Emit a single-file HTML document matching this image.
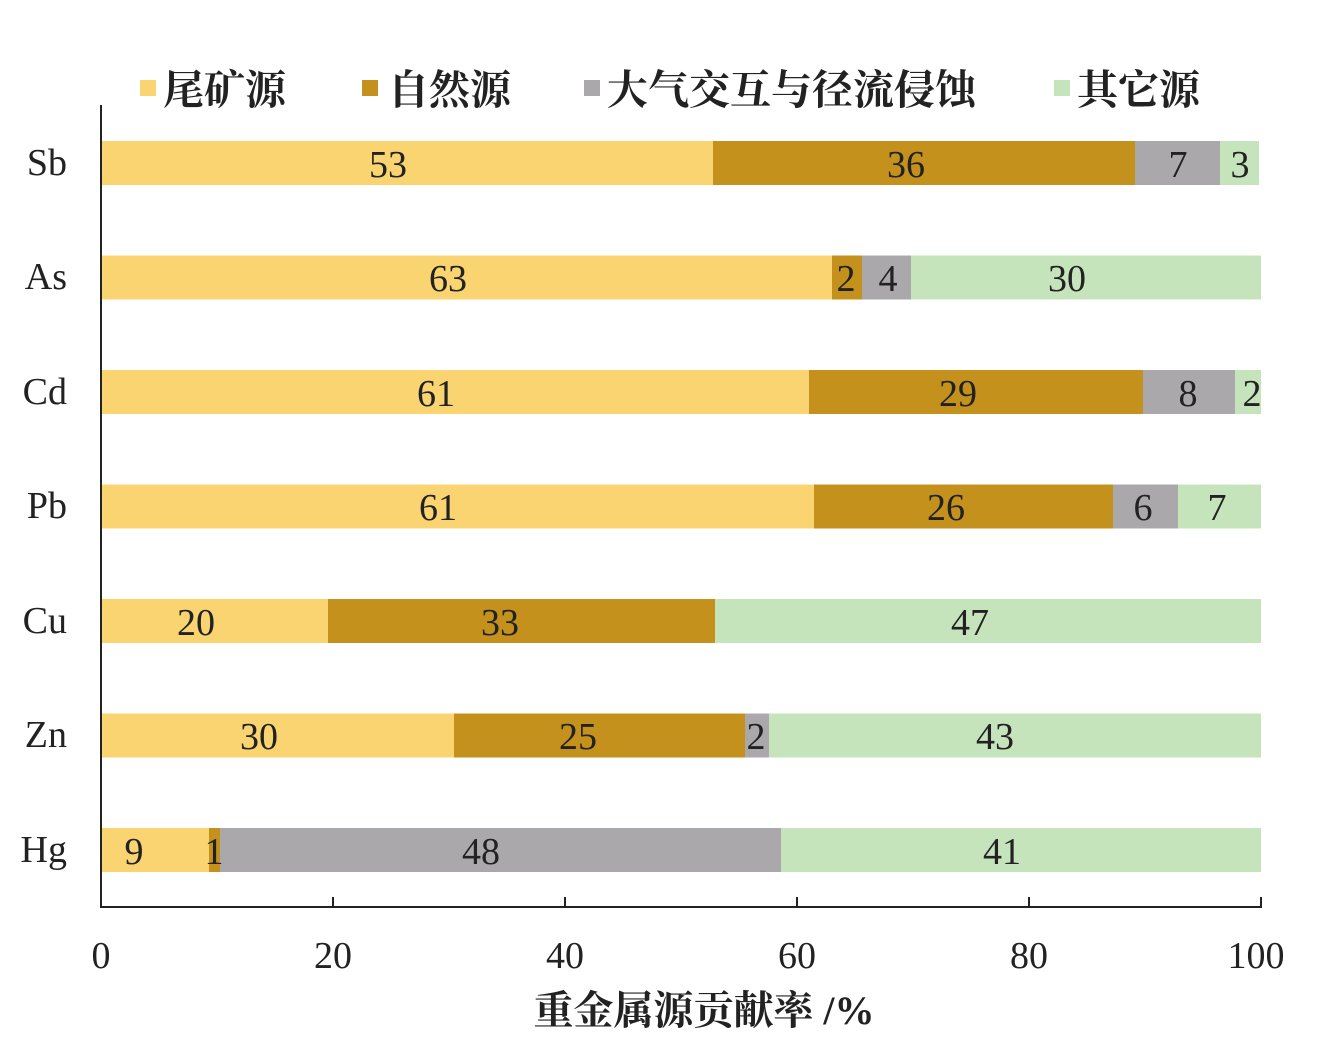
<!DOCTYPE html>
<html><head><meta charset="utf-8"><style>
html,body{margin:0;padding:0;background:#fff;}
text{font-family:"Liberation Serif","Noto Serif CJK SC",serif;fill:#222;}
</style></head><body>
<svg width="1324" height="1052" viewBox="0 0 1324 1052" xmlns="http://www.w3.org/2000/svg">
<g font-size="41" font-weight="bold">
<rect x="140" y="80" width="16" height="16" fill="#F9D470"/><text x="163" y="104">尾矿源</text>
<rect x="362" y="80" width="16" height="16" fill="#C4921C"/><text x="388" y="104">自然源</text>
<rect x="584" y="80" width="16" height="16" fill="#ABA8AC"/><text x="607" y="104">大气交互与径流侵蚀</text>
<rect x="1054" y="80" width="16" height="16" fill="#C6E4BC"/><text x="1077" y="104">其它源</text>
</g>
<g>
<!-- Sb -->
<rect x="101" y="141" width="612" height="44" fill="#F9D470"/><rect x="713" y="141" width="422" height="44" fill="#C4921C"/><rect x="1135" y="141" width="85" height="44" fill="#ABA8AC"/><rect x="1220" y="141" width="39" height="44" fill="#C6E4BC"/>
<!-- As -->
<rect x="101" y="255.5" width="731" height="44" fill="#F9D470"/><rect x="832" y="255.5" width="30" height="44" fill="#C4921C"/><rect x="862" y="255.5" width="49" height="44" fill="#ABA8AC"/><rect x="911" y="255.5" width="350" height="44" fill="#C6E4BC"/>
<!-- Cd -->
<rect x="101" y="370" width="708" height="44" fill="#F9D470"/><rect x="809" y="370" width="334" height="44" fill="#C4921C"/><rect x="1143" y="370" width="92" height="44" fill="#ABA8AC"/><rect x="1235" y="370" width="26" height="44" fill="#C6E4BC"/>
<!-- Pb -->
<rect x="101" y="484.5" width="713" height="44" fill="#F9D470"/><rect x="814" y="484.5" width="299" height="44" fill="#C4921C"/><rect x="1113" y="484.5" width="65" height="44" fill="#ABA8AC"/><rect x="1178" y="484.5" width="83" height="44" fill="#C6E4BC"/>
<!-- Cu -->
<rect x="101" y="599" width="227" height="44" fill="#F9D470"/><rect x="328" y="599" width="387" height="44" fill="#C4921C"/><rect x="715" y="599" width="546" height="44" fill="#C6E4BC"/>
<!-- Zn -->
<rect x="101" y="713.5" width="353" height="44" fill="#F9D470"/><rect x="454" y="713.5" width="291" height="44" fill="#C4921C"/><rect x="745" y="713.5" width="24" height="44" fill="#ABA8AC"/><rect x="769" y="713.5" width="492" height="44" fill="#C6E4BC"/>
<!-- Hg -->
<rect x="101" y="828" width="108" height="44" fill="#F9D470"/><rect x="209" y="828" width="11" height="44" fill="#C4921C"/><rect x="220" y="828" width="561" height="44" fill="#ABA8AC"/><rect x="781" y="828" width="480" height="44" fill="#C6E4BC"/>
</g>
<g font-size="38" text-anchor="middle">
<text x="388" y="177">53</text><text x="906" y="177">36</text><text x="1178" y="177">7</text><text x="1240" y="177">3</text>
<text x="448" y="291">63</text><text x="846" y="291">2</text><text x="888" y="291">4</text><text x="1067" y="291">30</text>
<text x="436" y="406">61</text><text x="958" y="406">29</text><text x="1188" y="406">8</text><text x="1252" y="406">2</text>
<text x="438" y="520">61</text><text x="946" y="520">26</text><text x="1143" y="520">6</text><text x="1217" y="520">7</text>
<text x="196" y="635">20</text><text x="500" y="635">33</text><text x="970" y="635">47</text>
<text x="259" y="749">30</text><text x="578" y="749">25</text><text x="756" y="749">2</text><text x="995" y="749">43</text>
<text x="134" y="864">9</text><text x="214" y="864">1</text><text x="481" y="864">48</text><text x="1002" y="864">41</text>
</g>
<g font-size="38" text-anchor="end">
<text x="67" y="175">Sb</text><text x="67" y="289">As</text><text x="67" y="404">Cd</text><text x="67" y="518">Pb</text>
<text x="67" y="633">Cu</text><text x="67" y="747">Zn</text><text x="67" y="862">Hg</text>
</g>
<line x1="101" y1="105" x2="101" y2="908" stroke="#222" stroke-width="2"/>
<line x1="100" y1="907" x2="1262" y2="907" stroke="#222" stroke-width="2"/>
<g stroke="#222" stroke-width="2">
<line x1="333" y1="897" x2="333" y2="907"/><line x1="565" y1="897" x2="565" y2="907"/>
<line x1="797" y1="897" x2="797" y2="907"/><line x1="1029" y1="897" x2="1029" y2="907"/>
<line x1="1261" y1="897" x2="1261" y2="907"/></g>
<g font-size="38" text-anchor="middle">
<text x="101" y="968">0</text><text x="333" y="968">20</text><text x="565" y="968">40</text>
<text x="797" y="968">60</text><text x="1029" y="968">80</text><text x="1256" y="968">100</text>
</g>
<text x="704" y="1024" font-size="40" text-anchor="middle" font-weight="bold">重金属源贡献率 /%</text>
</svg>
</body></html>
